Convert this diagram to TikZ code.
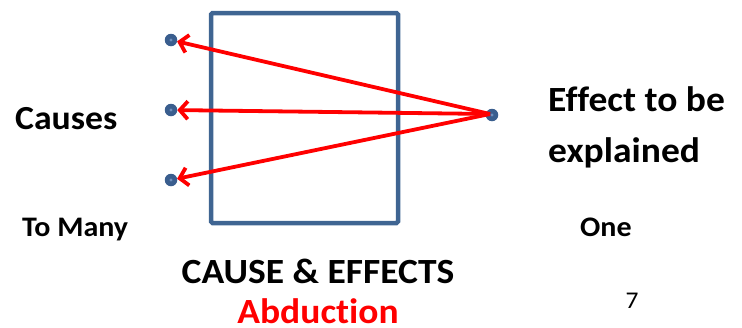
\documentclass[tikz,border=0pt]{standalone}
\usepackage{fontspec}
\setmainfont{Carlito}[RawFeature={-liga}]
\usetikzlibrary{arrows.meta}
\definecolor{boxblue}{HTML}{3F6592}
\definecolor{dotblue}{HTML}{3A5E8E}
\definecolor{dotlight}{HTML}{6E90BE}
\definecolor{arrred}{HTML}{FF0000}
\newcommand{\widetxt}[1]{\scalebox{1.06}[1]{#1}}
\tikzset{
  dot/.style={circle,fill=dotblue,minimum size=12.5pt,inner sep=0pt,outer sep=0pt},
  redarrow/.style={draw=arrred,line width=3.8pt,-{Straight Barb[length=8pt,width=18pt,line width=3.8pt]}},
  bigtxt/.style={font=\bfseries\fontsize{35.4}{38}\selectfont,inner sep=0pt},
  smalltxt/.style={font=\bfseries\fontsize{28.3}{30}\selectfont,inner sep=0pt}
}
\begin{document}
\begin{tikzpicture}[x=1pt,y=-1pt]
\useasboundingbox (0,0) rectangle (742,327);
\draw[boxblue,line width=4.5pt,rounded corners=1.5pt] (211,13) rectangle (398,223);
\node[dot] (c1) at (171,40) {};
\node[dot] (c2) at (171,110) {};
\node[dot] (c3) at (171,180) {};
\node[dot] (e) at (492,115) {};
\foreach \n in {c1,c2,c3,e} \fill[dotlight] (\n) circle (1.6pt);
\coordinate (s) at (490,114);
\draw[redarrow] (s) -- (c1);
\draw[redarrow] (s) -- (c2);
\draw[redarrow] (s) -- (c3);
\node[bigtxt,font=\bfseries\fontsize{33.7}{36}\selectfont,anchor=base west] (causes) at (15,129) {\widetxt{Causes}};
\node[bigtxt,anchor=base west] (eff1) at (548,111) {\widetxt{Effect to be}};
\node[bigtxt,anchor=base west] (eff2) at (548,162) {\widetxt{explained}};
\node[smalltxt,anchor=base west] (many) at (22,236) {\widetxt{To Many}};
\node[smalltxt,anchor=base west] (one) at (580,236) {\widetxt{One}};
\node[bigtxt,anchor=base] (ce) at (318,283) {\widetxt{CAUSE \& EFFECTS}};
\node[bigtxt,text=arrred,anchor=base] (abd) at (318,323) {\widetxt{Abduction}};
\node[font=\fontsize{24}{26}\selectfont,inner sep=0pt,anchor=base] (num) at (632,308) {\widetxt{7}};
\end{tikzpicture}
\end{document}
